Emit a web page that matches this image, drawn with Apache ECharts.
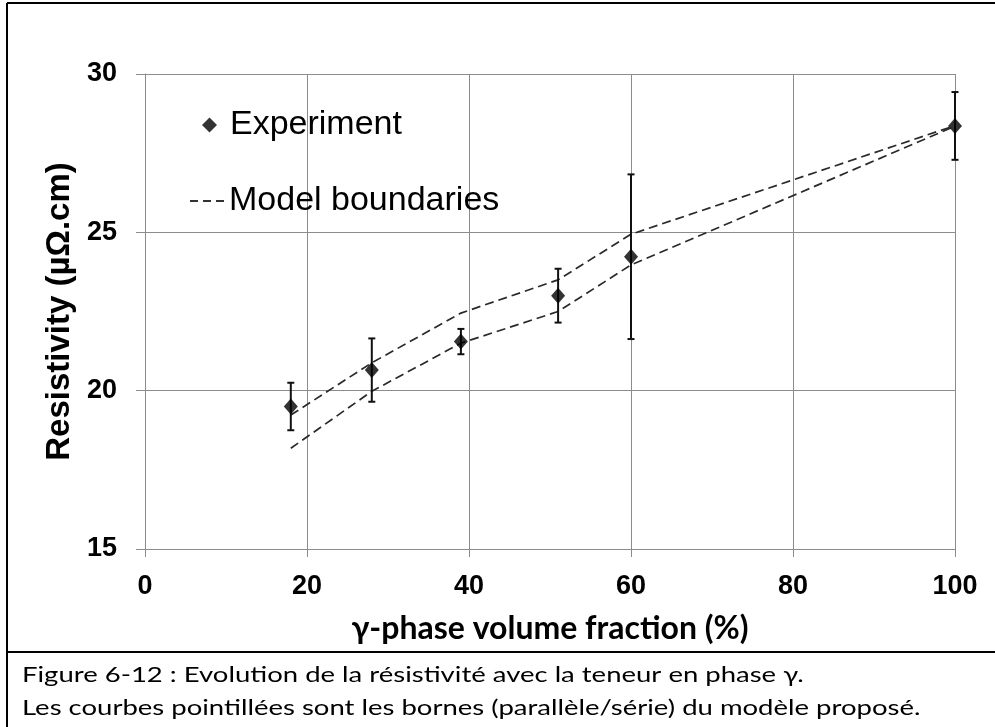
<!DOCTYPE html>
<html>
<head>
<meta charset="utf-8">
<script src="https://cdn.jsdelivr.net/npm/echarts@6/dist/echarts.min.js"></script>
<style>
  html, body { margin: 0; padding: 0; background: #ffffff; }
  #chart { width: 995px; height: 727px; }
</style>
</head>
<body>
<div id="chart"></div>
<script>
// γ-phase volume fraction (%) of each sample
var fractions = [18, 28, 39, 51, 60, 100];
// Measured resistivity (µΩ.cm) and its uncertainty
var resistivity = [19.5, 20.65, 21.55, 23.0, 24.23, 28.36];
var resistivityError = [0.75, 1.0, 0.4, 0.85, 2.6, 1.07];
// Upper and lower bounds of the model (parallel / series)
var upperBound = [19.23, 20.88, 22.45, 23.5, 24.94, 28.37];
var lowerBound = [18.18, 19.98, 21.5, 22.5, 23.97, 28.35];
// Axis ticks
var xTicks = [0, 20, 40, 60, 80, 100];
var yTicks = [15, 20, 25, 30];

var captionLines = [
  'Figure 6-12 : Evolution de la résistivité avec la teneur en phase γ.',
  'Les courbes pointillées sont les bornes (parallèle/série) du modèle proposé.'
];

function pairs(xs, ys) {
  return xs.map(function (x, i) { return [x, ys[i]]; });
}

var experimentData = pairs(fractions, resistivity);
var errorData = fractions.map(function (x, i) {
  return [x, resistivity[i] - resistivityError[i], resistivity[i] + resistivityError[i]];
});

var gridColor = '#8c8c8c';
var dash = [9, 5];
// three short dashes used as the legend key of the model curves
var dashIcon = 'path://M0,0H8V2H0Z M13,0H21V2H13Z M26,0H34V2H26Z';

function captionText(line, y) {
  return {
    type: 'text',
    x: 22,
    y: y,
    scaleX: 1.25,
    scaleY: 1,
    style: {
      text: line, x: 0, y: 0,
      fontFamily: 'Lato', fontSize: 22, fill: '#000',
      align: 'left', verticalAlign: 'middle'
    }
  };
}

var chart = echarts.init(document.getElementById('chart'), null, { renderer: 'canvas' });

chart.setOption({
  backgroundColor: '#ffffff',
  animation: false,
  grid: { left: 145, right: 40, top: 74, bottom: 178, containLabel: false },
  xAxis: {
    type: 'value',
    min: xTicks[0],
    max: xTicks[xTicks.length - 1],
    interval: xTicks[1] - xTicks[0],
    name: 'γ-phase volume fraction (%)',
    nameLocation: 'middle',
    nameGap: 64,
    nameTextStyle: { fontFamily: 'Lato', fontWeight: 'bold', fontSize: 32, color: '#000' },
    axisLine: { show: true, lineStyle: { color: gridColor, width: 1 } },
    axisTick: { show: true, length: 8, lineStyle: { color: gridColor, width: 1 } },
    axisLabel: { margin: 24, fontFamily: 'Liberation Sans', fontWeight: 'bold', fontSize: 27, color: '#000' },
    splitLine: { show: true, lineStyle: { color: gridColor, width: 1 } }
  },
  yAxis: {
    type: 'value',
    min: yTicks[0],
    max: yTicks[yTicks.length - 1],
    interval: yTicks[1] - yTicks[0],
    name: 'Resistivity (µΩ.cm)',
    nameLocation: 'middle',
    nameRotate: 90,
    nameGap: 68,
    nameTextStyle: { fontFamily: 'Liberation Sans', fontWeight: 'bold', fontSize: 33, color: '#000' },
    axisLine: { show: true, lineStyle: { color: gridColor, width: 1 } },
    axisTick: { show: true, length: 9, lineStyle: { color: gridColor, width: 1 } },
    axisLabel: { margin: 28, fontFamily: 'Liberation Sans', fontWeight: 'bold', fontSize: 27, color: '#000' },
    splitLine: { show: true, lineStyle: { color: gridColor, width: 1 } }
  },
  legend: [
    {
      data: [{ name: 'Experiment', icon: 'diamond', itemStyle: { color: '#000', borderWidth: 0 } }],
      left: 202,
      top: 108,
      padding: 0,
      itemWidth: 15,
      itemHeight: 15,
      textStyle: { fontFamily: 'Liberation Sans', fontSize: 34, color: '#000', padding: [0, 0, 0, 8] },
      selectedMode: false
    },
    {
      data: [{ name: 'Model boundaries', icon: dashIcon, itemStyle: { color: '#333', borderWidth: 0 } }],
      left: 190,
      top: 184,
      padding: 0,
      itemWidth: 34,
      itemHeight: 2,
      textStyle: { fontFamily: 'Liberation Sans', fontSize: 34, color: '#000' },
      selectedMode: false
    }
  ],
  graphic: [
    // frame around the figure and its caption
    { type: 'line', shape: { x1: 7, y1: 3, x2: 995, y2: 3 }, style: { stroke: '#000', lineWidth: 2 } },
    { type: 'line', shape: { x1: 7, y1: 3, x2: 7, y2: 727 }, style: { stroke: '#000', lineWidth: 2 } },
    { type: 'line', shape: { x1: 7, y1: 652, x2: 995, y2: 652 }, style: { stroke: '#000', lineWidth: 2 } },
    captionText(captionLines[0], 675),
    captionText(captionLines[1], 708)
  ],
  series: [
    {
      name: 'Model boundaries',
      type: 'line',
      data: pairs(fractions, upperBound),
      symbol: 'none',
      lineStyle: { color: '#2a2a2a', width: 1.7, type: dash },
      itemStyle: { color: '#2a2a2a' },
      z: 2
    },
    {
      name: 'Model boundaries',
      type: 'line',
      data: pairs(fractions, lowerBound),
      symbol: 'none',
      lineStyle: { color: '#2a2a2a', width: 1.7, type: dash },
      itemStyle: { color: '#2a2a2a' },
      z: 2
    },
    {
      name: 'Error bars',
      type: 'custom',
      data: errorData,
      z: 3,
      renderItem: function (params, api) {
        var x = api.value(0);
        var lo = api.coord([x, api.value(1)]);
        var hi = api.coord([x, api.value(2)]);
        var cap = 3.5;
        var style = { stroke: '#111', lineWidth: 2 };
        return {
          type: 'group',
          children: [
            { type: 'line', shape: { x1: lo[0], y1: lo[1], x2: hi[0], y2: hi[1] }, style: style },
            { type: 'line', shape: { x1: lo[0] - cap, y1: lo[1], x2: lo[0] + cap, y2: lo[1] }, style: style },
            { type: 'line', shape: { x1: hi[0] - cap, y1: hi[1], x2: hi[0] + cap, y2: hi[1] }, style: style }
          ]
        };
      }
    },
    {
      name: 'Experiment',
      type: 'scatter',
      data: experimentData,
      symbol: 'diamond',
      symbolSize: [14, 16],
      itemStyle: { color: '#000' },
      z: 4
    }
  ]
});
</script>
</body>
</html>
